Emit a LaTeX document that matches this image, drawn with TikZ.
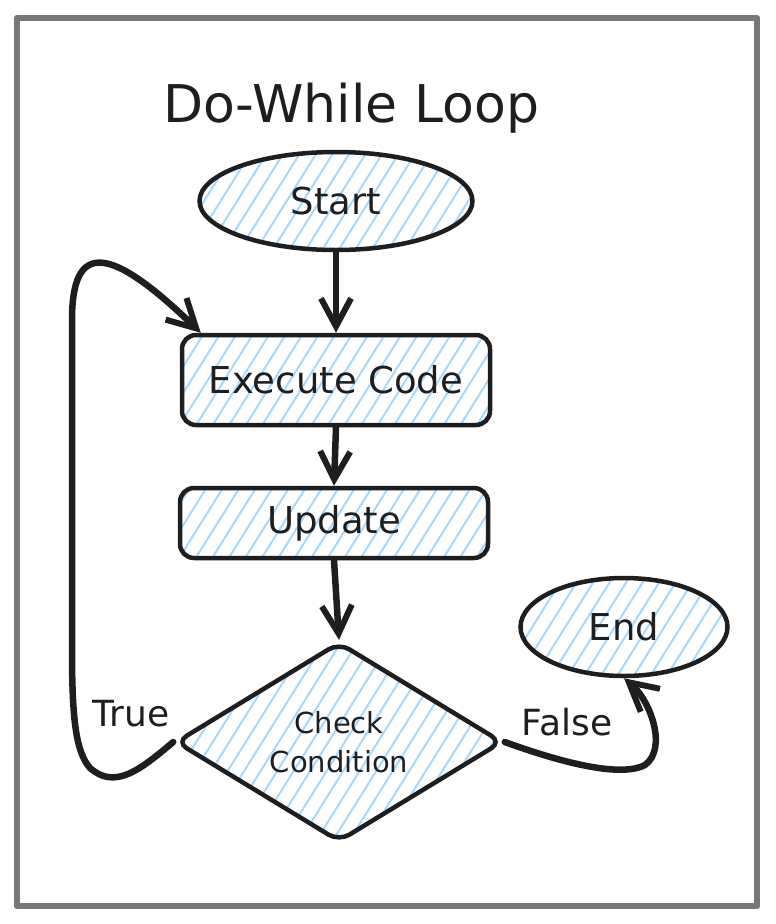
\documentclass[tikz,border=0pt]{standalone}
\usepackage{fontspec}
\setmainfont{DejaVu Sans}
\usetikzlibrary{shapes.geometric,arrows.meta,patterns.meta,calc}
\definecolor{ink}{HTML}{1E1E1E}
\definecolor{hatch}{HTML}{A5D8FF}
\definecolor{framegray}{HTML}{787878}
\begin{document}
\begin{tikzpicture}[x=1pt,y=1pt,
  shape base/.style={draw=ink, line width=4.5pt, inner sep=0pt, text=ink,
    pattern={Lines[angle=58,distance=14pt,line width=2pt]}, pattern color=hatch,
    font=\fontsize{37}{44}\selectfont},
  ovalbox/.style={shape base, ellipse},
  roundbox/.style={shape base, rectangle, rounded corners=14pt},
  decision/.style={shape base, diamond, rounded corners=12pt, align=center,
    font=\fontsize{29}{39}\selectfont},
  flow/.style={draw=ink, line width=6.5pt, line cap=round, line join=round,
    -{Straight Barb[length=28pt,width=30pt,line width=6pt]}},
  lbl/.style={text=ink, font=\fontsize{36}{44}\selectfont, inner sep=0pt}
]
\useasboundingbox (0,0) rectangle (776,-924);
\draw[framegray, line width=6.5pt, line join=round] (17,-18) rectangle (757,-906);

\node[text=ink, font=\fontsize{52}{60}\selectfont, anchor=base] (title) at (351,-122) {Do-While Loop};

\node[ovalbox, minimum width=273pt, minimum height=98pt] (start) at (336,-201) {Start};
\node[roundbox, minimum width=308pt, minimum height=90pt] (exec) at (336,-380) {Execute Code};
\node[roundbox, minimum width=308pt, minimum height=70pt] (update) at (334,-523) {Update};
\node[decision, minimum width=327pt, minimum height=188pt] (cond) at (339,-742) {Check\\Condition};
\node[ovalbox, minimum width=207pt, minimum height=98pt] (end) at (624,-627) {End};

\draw[flow] (start.south) -- (exec.north);
\draw[flow] (exec.south) -- (update.north);
\draw[flow] (update.south) -- (cond.north);

\coordinate (loopin) at ($(exec.north west)+(21,0)$);
\draw[flow] (cond.west) .. controls (140,-770) and (115,-790) .. (90,-768)
  .. controls (76,-752) and (72,-720) .. (72,-650) -- (72,-320)
  .. controls (72,-240) and (110,-245) .. (loopin);
\draw[flow] (cond.east) .. controls (560,-762) and (620,-778) .. (645,-765)
  .. controls (668,-748) and (650,-700) .. (end.south);

\node[lbl] (truelbl) at (131,-714) {True};
\node[lbl] (falselbl) at (567,-722) {False};
\end{tikzpicture}
\end{document}
